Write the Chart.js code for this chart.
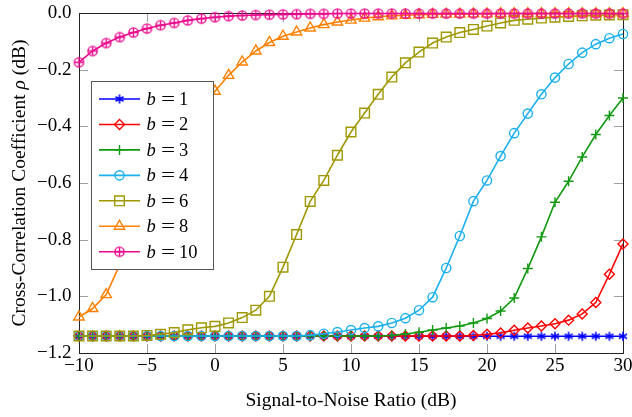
<!DOCTYPE html>
<html>
<head>
<meta charset="utf-8">
<script src="https://cdn.jsdelivr.net/npm/chart.js@4.4.1/dist/chart.umd.min.js"></script>
<style>
  html, body { margin: 0; padding: 0; background: #fff; }
  canvas { display: block; }
</style>
</head>
<body>
<canvas id="snrChart" width="632" height="417"></canvas>
<script>
// SNR in dB (x axis)
const snr = [-10, -9, -8, -7, -6, -5, -4, -3, -2, -1, 0, 1, 2, 3, 4, 5, 6, 7, 8, 9, 10,
  11, 12, 13, 14, 15, 16, 17, 18, 19, 20, 21, 22, 23, 24, 25, 26, 27, 28, 29, 30];

// cross-correlation coefficient (dB) per number of bits b
const rhoB1 = [-1.141, -1.141, -1.141, -1.141, -1.141, -1.141, -1.141, -1.141, -1.141, -1.141,
  -1.141, -1.141, -1.141, -1.141, -1.141, -1.141, -1.141, -1.141, -1.141, -1.141, -1.141,
  -1.141, -1.141, -1.141, -1.141, -1.141, -1.141, -1.141, -1.141, -1.141, -1.141,
  -1.141, -1.141, -1.141, -1.141, -1.141, -1.141, -1.141, -1.141, -1.141, -1.141];
const rhoB2 = [-1.14, -1.14, -1.14, -1.14, -1.14, -1.14, -1.14, -1.14, -1.14, -1.14,
  -1.14, -1.14, -1.14, -1.14, -1.14, -1.14, -1.14, -1.14, -1.14, -1.14, -1.14,
  -1.14, -1.14, -1.14, -1.14, -1.14, -1.14, -1.14, -1.14, -1.138, -1.134,
  -1.129, -1.120, -1.112, -1.105, -1.097, -1.084, -1.062, -1.022, -0.922, -0.815];
const rhoB3 = [-1.14, -1.14, -1.14, -1.14, -1.14, -1.14, -1.14, -1.14, -1.14, -1.14,
  -1.14, -1.14, -1.14, -1.14, -1.14, -1.14, -1.14, -1.14, -1.14, -1.14, -1.14,
  -1.14, -1.14, -1.138, -1.133, -1.127, -1.119, -1.112, -1.105, -1.094, -1.078,
  -1.052, -1.006, -0.902, -0.790, -0.668, -0.594, -0.508, -0.429, -0.362, -0.300];
const rhoB4 = [-1.14, -1.14, -1.14, -1.14, -1.14, -1.14, -1.14, -1.14, -1.14, -1.14,
  -1.14, -1.14, -1.14, -1.14, -1.14, -1.14, -1.14, -1.137, -1.132, -1.126, -1.119,
  -1.112, -1.106, -1.094, -1.077, -1.049, -1.003, -0.900, -0.787, -0.664, -0.591,
  -0.505, -0.424, -0.355, -0.287, -0.228, -0.180, -0.140, -0.110, -0.089, -0.074];
const rhoB6 = [-1.14, -1.14, -1.14, -1.14, -1.14, -1.138, -1.134, -1.128, -1.118, -1.111,
  -1.106, -1.094, -1.075, -1.049, -1.000, -0.897, -0.782, -0.665, -0.591, -0.502, -0.420,
  -0.353, -0.287, -0.226, -0.176, -0.138, -0.106, -0.085, -0.069, -0.058, -0.046,
  -0.035, -0.026, -0.022, -0.018, -0.015, -0.012, -0.010, -0.008, -0.007, -0.006];
const rhoB8 = [-1.073, -1.043, -0.994, -0.888, -0.782, -0.665, -0.591, -0.502, -0.420, -0.360,
  -0.276, -0.220, -0.173, -0.134, -0.104, -0.082, -0.067, -0.053, -0.041, -0.032, -0.025,
  -0.018, -0.013, -0.010, -0.008, -0.006, -0.005, -0.004, -0.004, -0.003, -0.003,
  -0.002, -0.002, -0.002, -0.002, -0.002, -0.002, -0.002, -0.002, -0.002, -0.002];
const rhoB10 = [-0.174, -0.134, -0.106, -0.085, -0.069, -0.055, -0.043, -0.035, -0.026, -0.020,
  -0.015, -0.011, -0.009, -0.007, -0.006, -0.005, -0.004, -0.003, -0.003, -0.002, -0.002,
  -0.002, -0.002, -0.002, -0.002, -0.002, -0.002, -0.002, -0.002, -0.002, -0.002,
  -0.002, -0.002, -0.002, -0.002, -0.002, -0.002, -0.002, -0.002, -0.002, -0.002];

const bits = ["1", "2", "3", "4", "6", "8", "10"];
const xTicks = [-10, -5, 0, 5, 10, 15, 20, 25, 30];
const yTicks = [-1.2, -1.0, -0.8, -0.6, -0.4, -0.2, 0.0];

const serif = "'Liberation Serif', 'Times New Roman', serif";

// circle with a plus inside (pgfplots oplus)
function oplusMarker(color) {
  const c = document.createElement("canvas");
  c.width = 13; c.height = 13;
  const g = c.getContext("2d");
  g.strokeStyle = color;
  g.lineWidth = 1.4;
  g.beginPath(); g.arc(6.5, 6.5, 4.6, 0, Math.PI * 2); g.stroke();
  g.beginPath();
  g.moveTo(1.9, 6.5); g.lineTo(11.1, 6.5);
  g.moveTo(6.5, 1.9); g.lineTo(6.5, 11.1);
  g.stroke();
  return c;
}

// six-armed asterisk
function asteriskMarker(color) {
  const c = document.createElement("canvas");
  c.width = 12; c.height = 12;
  const g = c.getContext("2d");
  g.strokeStyle = color;
  g.lineWidth = 1.6;
  g.beginPath();
  [90, 30, 150].forEach(d => {
    const r = d * Math.PI / 180, dx = Math.cos(r) * 4.6, dy = Math.sin(r) * 4.6;
    g.moveTo(6 - dx, 6 - dy); g.lineTo(6 + dx, 6 + dy);
  });
  g.stroke();
  return c;
}

const series = [
  { values: rhoB1, color: "#0000ff", style: asteriskMarker("#0000ff"), radius: 4.5 },
  { values: rhoB2, color: "#ff0000", style: "rectRot", radius: 5 },
  { values: rhoB3, color: "#119911", style: "cross", radius: 5 },
  { values: rhoB4, color: "#1ab0ee", style: "circle", radius: 4.6 },
  { values: rhoB6, color: "#a09800", style: "rect", radius: 6.8 },
  { values: rhoB8, color: "#ff8000", style: "triangle", radius: 6 },
  { values: rhoB10, color: "#ea0a8e", style: oplusMarker("#ea0a8e"), radius: 5 }
];

function fmt(v, digits) {
  const s = Math.abs(v).toFixed(digits);
  return (v < -1e-9 ? "\u2212" : "") + s;
}

// box, inward ticks, axis titles
const frame = {
  id: "frame",
  beforeDatasetsDraw(chart) {
    const { ctx, chartArea: a, scales: { x, y } } = chart;
    ctx.save();
    ctx.strokeStyle = "#a0a0a0";
    ctx.lineWidth = 1;
    ctx.beginPath();
    xTicks.forEach(v => {
      const px = Math.round(x.getPixelForValue(v)) + 0.5;
      ctx.moveTo(px, a.bottom); ctx.lineTo(px, a.bottom - 9);
      ctx.moveTo(px, a.top); ctx.lineTo(px, a.top + 9);
    });
    yTicks.forEach(v => {
      const py = Math.round(y.getPixelForValue(v)) + 0.5;
      ctx.moveTo(a.left, py); ctx.lineTo(a.left + 9, py);
      ctx.moveTo(a.right, py); ctx.lineTo(a.right - 9, py);
    });
    ctx.stroke();
    ctx.strokeStyle = "#222";
    ctx.strokeRect(Math.round(a.left) + 0.5, Math.round(a.top) + 0.5,
      Math.round(a.right - a.left), Math.round(a.bottom - a.top));

    ctx.fillStyle = "#000";
    ctx.font = "19.5px " + serif;
    ctx.textAlign = "center";
    ctx.textBaseline = "alphabetic";
    ctx.fillText("Signal-to-Noise Ratio (dB)", (a.left + a.right) / 2, 406);

    ctx.translate(25, (a.top + a.bottom) / 2);
    ctx.rotate(-Math.PI / 2);
    const pre = "Cross-Correlation Coefficient ";
    const rho = "\u03c1";
    const post = " (dB)";
    ctx.font = "19.5px " + serif;
    const w1 = ctx.measureText(pre).width, w3 = ctx.measureText(post).width;
    ctx.font = "italic 19.5px " + serif;
    const w2 = ctx.measureText(rho).width;
    let tx = -(w1 + w2 + w3) / 2;
    ctx.textAlign = "left";
    ctx.font = "19.5px " + serif;
    ctx.fillText(pre, tx, 0); tx += w1;
    ctx.font = "italic 19.5px " + serif;
    ctx.fillText(rho, tx, 0); tx += w2;
    ctx.font = "19.5px " + serif;
    ctx.fillText(post, tx, 0);
    ctx.restore();
  },
  afterDatasetsDraw(chart) {
    const ctx = chart.ctx;
    ctx.save();
    ctx.fillStyle = "#fff";
    ctx.fillRect(91, 81, 123, 189);
    ctx.strokeStyle = "#555";
    ctx.lineWidth = 1;
    ctx.strokeRect(91.5, 81.5, 122, 188);
    series.forEach((s, i) => {
      const ry = 99 + i * 25.45;
      ctx.strokeStyle = s.color;
      ctx.lineWidth = 1.6;
      ctx.beginPath(); ctx.moveTo(99, ry); ctx.lineTo(140, ry); ctx.stroke();
      ctx.fillStyle = "rgba(0,0,0,0)";
      ctx.lineWidth = 1.4;
      Chart.helpers.drawPoint(ctx, { pointStyle: s.style, radius: s.radius, borderWidth: 1.4, rotation: 0 }, 119.5, ry);
      ctx.fillStyle = "#000";
      ctx.textBaseline = "alphabetic";
      ctx.textAlign = "left";
      ctx.font = "italic 18.5px " + serif;
      ctx.fillText("b", 146.5, ry + 6);
      ctx.save();
      ctx.translate(168, ry + 6);
      ctx.scale(1.35, 1);
      ctx.font = "18.5px " + serif;
      ctx.textAlign = "center";
      ctx.fillText("=", 0, 0);
      ctx.restore();
      ctx.font = "18.5px " + serif;
      ctx.fillText(bits[i], 179, ry + 6);
    });
    ctx.restore();
  }
};

new Chart(document.getElementById("snrChart"), {
  type: "line",
  data: {
    datasets: series.map((s, i) => ({
      label: "b = " + bits[i],
      data: snr.map((v, j) => ({ x: v, y: s.values[j] })),
      borderColor: s.color,
      backgroundColor: "rgba(0,0,0,0)",
      borderWidth: 1.6,
      pointStyle: s.style,
      pointRadius: s.radius,
      pointBorderColor: s.color,
      pointBackgroundColor: "rgba(0,0,0,0)",
      pointBorderWidth: 1.4,
      tension: 0,
      clip: false,
      order: series.length - i
    }))
  },
  options: {
    responsive: false,
    animation: false,
    devicePixelRatio: 1,
    events: [],
    layout: { padding: { top: 13, right: 9, left: 0, bottom: 0 } },
    plugins: { legend: { display: false }, tooltip: { enabled: false } },
    scales: {
      x: {
        type: "linear",
        min: -10,
        max: 30,
        afterBuildTicks: s => { s.ticks = xTicks.map(v => ({ value: v })); },
        afterFit: s => { s.height = 64; s.paddingLeft = 0; s.paddingRight = 0; },
        grid: { display: false, drawTicks: false },
        border: { display: false },
        ticks: {
          color: "#000",
          padding: 2,
          maxRotation: 0,
          autoSkip: false,
          font: { family: serif, size: 19 },
          callback: v => fmt(v, 0)
        }
      },
      y: {
        type: "linear",
        min: -1.2,
        max: 0,
        afterBuildTicks: s => { s.ticks = yTicks.map(v => ({ value: v })); },
        afterFit: s => { s.width = 79; s.paddingTop = 0; s.paddingBottom = 0; },
        grid: { display: false, drawTicks: false },
        border: { display: false },
        ticks: {
          color: "#000",
          padding: 7.5,
          autoSkip: false,
          font: { family: serif, size: 19 },
          callback: v => fmt(v, 1)
        }
      }
    }
  },
  plugins: [frame]
});
</script>
</body>
</html>
